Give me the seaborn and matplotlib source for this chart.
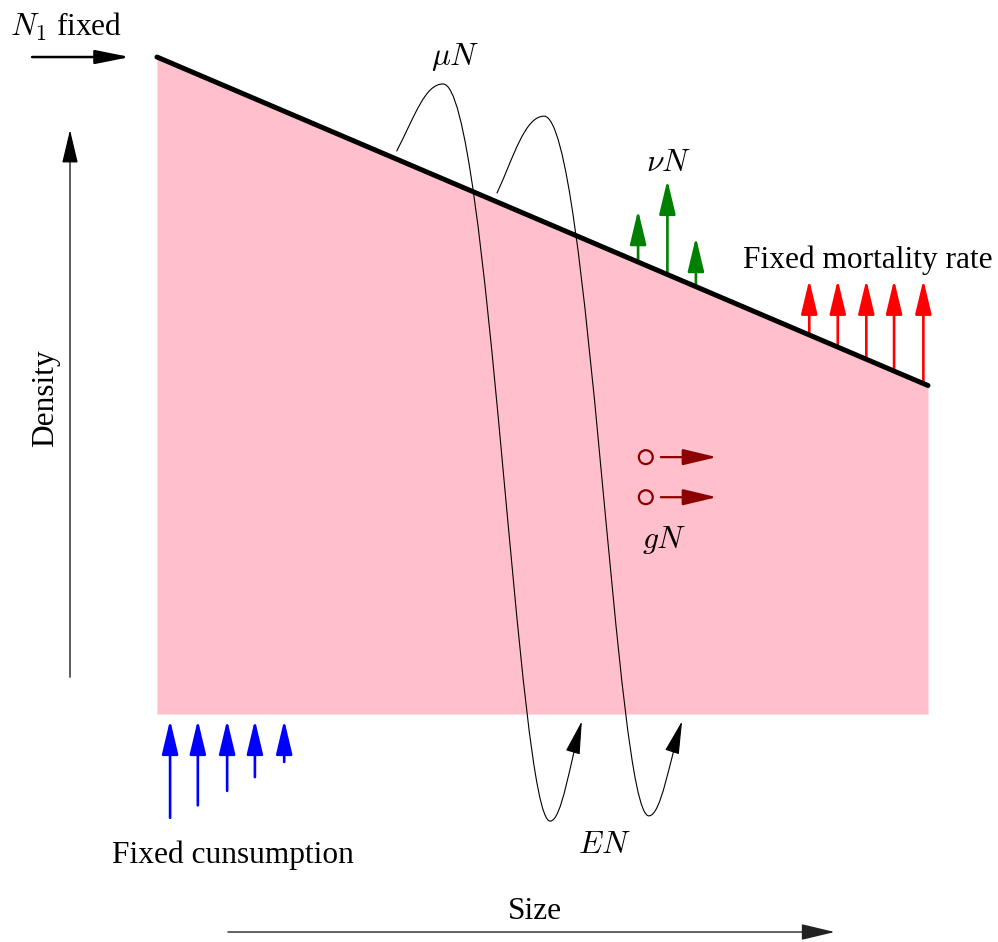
import numpy as np
import matplotlib
from matplotlib import pyplot as plt
from matplotlib.patches import FancyArrowPatch
from matplotlib.path import Path
import seaborn as sns
matplotlib.use("Agg")

# size runs 0..10 across the pink block, density 0..10 up it
size_edge = [0, 10]
density_edge = [10, 5]

# fixed consumption (blue) arrows under the block
cons_x = [0.17, 0.53, 0.91, 1.27, 1.65]
cons_tail = [-1.58, -1.39, -1.17, -0.96, -0.73]
cons_tip = -0.09

# nu N (green) arrows
nu_x = [6.24, 6.62, 6.99]
nu_tip = [7.67, 8.13, 7.26]

# fixed mortality (red) arrows
mort_x = [8.46, 8.83, 9.20, 9.56, 9.94]
mort_tip = 6.61

# gN growth markers
g_x = [6.34, 6.34]
g_y = [3.91, 3.30]
g_tip = 7.26

# mu N / E N loops, cubic bezier control points (size, density)
loop1 = [(3.11, 8.57), (3.35, 9.12), (3.48, 9.59), (3.71, 9.59),
         (4.30, 9.59), (4.68, -1.63), (5.10, -1.63),
         (5.25, -1.63), (5.36, -0.72), (5.51, -0.11)]
loop2 = [(4.41, 7.93), (4.62, 8.46), (4.77, 9.10), (5.02, 9.10),
         (5.60, 9.10), (5.95, -1.55), (6.38, -1.55),
         (6.54, -1.55), (6.65, -0.69), (6.81, -0.11)]


def arrow(ax, tail, tip, color, lw, hl=21, hw=5.0):
    style = f"-|>,head_length={hl},head_width={hw}"
    a = FancyArrowPatch(tail, tip, arrowstyle=style, mutation_scale=1,
                        shrinkA=0, shrinkB=0, color=color, lw=lw)
    ax.add_patch(a)


sns.set_theme(style="white")
plt.rcParams['font.family'] = ['Liberation Serif', 'DejaVu Serif']
plt.rcParams['mathtext.fontset'] = 'cm'
plt.rcParams['text.color'] = 'black'
fs = 22.6

fig = plt.figure(figsize=(9.98, 9.42), dpi=100)
ax = fig.add_axes([0, 0, 1, 1])
ax.set_xlim(-2.036, 10.908)
ax.set_ylim(-3.470, 10.868)
ax.axis('off')

# pink population block and its top edge
ax.fill_between(size_edge, 0, density_edge, color='pink', lw=0)
sns.lineplot(x=size_edge, y=density_edge, color='black', lw=3.6, ax=ax)

# loops (mu N going out the top, E N coming in the bottom)
for loop in [loop1, loop2]:
    codes = [Path.MOVETO] + [Path.CURVE4] * (len(loop) - 1)
    p = FancyArrowPatch(path=Path(loop, codes),
                        arrowstyle="-|>,head_length=21,head_width=4.6",
                        mutation_scale=1, color='black', lw=0.8)
    ax.add_patch(p)

# blue consumption arrows
for x, t in zip(cons_x, cons_tail):
    arrow(ax, (x, t), (x, cons_tip), 'blue', 1.9)

# green nu N arrows start on the edge
for x, t in zip(nu_x, nu_tip):
    base = np.interp(x, size_edge, density_edge)
    arrow(ax, (x, base), (x, t), 'green', 1.9)

# red mortality arrows
for x in mort_x:
    base = np.interp(x, size_edge, density_edge)
    arrow(ax, (x, base), (x, mort_tip), 'red', 1.9)

# gN circles and arrows
sns.scatterplot(x=g_x, y=g_y, marker='o', s=100, facecolor='none',
                edgecolor='darkred', linewidth=1.6, ax=ax, zorder=3)
for x, y in zip(g_x, g_y):
    arrow(ax, (x + 0.195, y), (g_tip, y), 'darkred', 1.6)

# axes arrows
arrow(ax, (-1.62, 10), (-0.35, 10), 'black', 1.8, hw=4.2)
arrow(ax, (-1.128, 0.56), (-1.128, 8.89), 'black', 0.9, hw=5.0)
arrow(ax, (0.92, -3.318), (8.79, -3.318), '#222222', 1.0, hw=5.0)

# labels
ax.text(-1.91, 10.32, "$N_1$ fixed", fontsize=fs, ha='left', va='baseline')
ax.text(3.87, 9.88, r"$\mu N$", fontsize=fs, ha='center', va='baseline')
ax.text(6.64, 8.27, r"$\nu N$", fontsize=fs, ha='center', va='baseline')
ax.text(7.60, 6.79, "Fixed mortality rate", fontsize=fs, ha='left', va='baseline')
ax.text(6.58, 2.53, "$gN$", fontsize=fs, ha='center', va='baseline')
ax.text(5.80, -2.12, "$EN$", fontsize=fs, ha='center', va='baseline')
ax.text(-0.58, -2.27, "Fixed cunsumption", fontsize=fs, ha='left', va='baseline')
ax.text(4.90, -3.12, "Size", fontsize=fs, ha='center', va='baseline')
ax.text(-1.45, 4.81, "Density", fontsize=fs, rotation=90, ha='center', va='center')

fig.savefig("out.png", dpi=100)
